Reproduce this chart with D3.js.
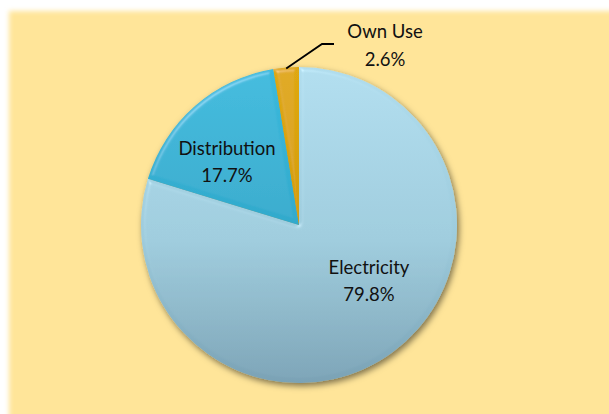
<!DOCTYPE html>
<html><head><meta charset="utf-8">
<script src="https://cdn.jsdelivr.net/npm/d3@7"></script>
<style>html,body{margin:0;padding:0;background:#fff;}svg{display:block;}</style>
</head><body>
<script>
const categories = ["Electricity", "Distribution", "Own Use"];
const values = [79.8, 17.7, 2.6];
const labels = ["79.8%", "17.7%", "2.6%"];
const topColors = ["#b0ddee", "#3cbadd", "#dfa812"];
const midColors = ["#9dcbdc", "#30a8ca", "#d39c08"];
const bottomColors = ["#7aa2b5", "#24869f", "#b07d04"];

const W = 609, H = 414;
const cx = 299, cy = 225, R = 158;

const svg = d3.select("body").append("svg").attr("width", W).attr("height", H);
const defs = svg.append("defs");

const bgBlur = defs.append("filter").attr("id", "bgblur").attr("x", "-5%").attr("y", "-5%").attr("width", "110%").attr("height", "110%");
bgBlur.append("feGaussianBlur").attr("stdDeviation", 2.5);

const shadow = defs.append("filter").attr("id", "shadow").attr("x", "-20%").attr("y", "-20%").attr("width", "140%").attr("height", "140%");
shadow.append("feDropShadow").attr("dx", 2).attr("dy", 3).attr("stdDeviation", 3).attr("flood-color", "#000").attr("flood-opacity", 0.5);

const bevel = defs.append("filter").attr("id", "bevel").attr("x", "-10%").attr("y", "-10%").attr("width", "120%").attr("height", "120%");
bevel.append("feGaussianBlur").attr("in", "SourceAlpha").attr("stdDeviation", 2).attr("result", "b");
bevel.append("feSpecularLighting").attr("in", "b").attr("surfaceScale", 3).attr("specularConstant", 0.6)
  .attr("specularExponent", 25).attr("lighting-color", "#fff").attr("result", "spec")
  .append("feDistantLight").attr("azimuth", 235).attr("elevation", 40);
bevel.append("feComposite").attr("in", "spec").attr("in2", "SourceAlpha").attr("operator", "in").attr("result", "specIn");
bevel.append("feComposite").attr("in", "SourceGraphic").attr("in2", "specIn").attr("operator", "arithmetic")
  .attr("k1", 0).attr("k2", 1).attr("k3", 0.3).attr("k4", 0);

categories.forEach((c, i) => {
  const g = defs.append("linearGradient").attr("id", "grad" + i)
    .attr("gradientUnits", "userSpaceOnUse")
    .attr("x1", 0).attr("y1", -R).attr("x2", 0).attr("y2", R);
  g.append("stop").attr("offset", "0%").attr("stop-color", topColors[i]);
  g.append("stop").attr("offset", "55%").attr("stop-color", midColors[i]);
  g.append("stop").attr("offset", "100%").attr("stop-color", bottomColors[i]);
});

// background panel
svg.append("rect").attr("x", 9).attr("y", 11).attr("width", W).attr("height", H)
  .attr("fill", "#ffe599").attr("filter", "url(#bgblur)");

const pie = d3.pie().sort(null).value(d => d)(values);
const arc = d3.arc().innerRadius(0).outerRadius(R);

const gPie = svg.append("g").attr("transform", `translate(${cx},${cy})`).attr("filter", "url(#shadow)");
gPie.selectAll("path.slice").data(pie).join("path")
  .attr("class", "slice")
  .attr("d", arc)
  .attr("fill", (d, i) => `url(#grad${i})`)
  .attr("filter", "url(#bevel)");

const fontFam = "Lato, 'Open Sans', sans-serif";
const txt = svg.append("g").attr("font-family", fontFam).attr("font-size", 18.5).attr("fill", "#111").attr("text-anchor", "middle");

const labelPos = [[369, 274], [227, 155]];
[0, 1].forEach(i => {
  const pos = labelPos[i];
  txt.append("text").attr("x", pos[0]).attr("y", pos[1]).text(categories[i]);
  txt.append("text").attr("x", pos[0]).attr("y", pos[1] + 27).text(labels[i]);
});
// Own Use outside label
txt.append("text").attr("x", 385).attr("y", 38).text(categories[2]);
txt.append("text").attr("x", 385).attr("y", 66).text(labels[2]);

const a = (pie[2].startAngle + pie[2].endAngle) / 2;
const px = cx + Math.sin(a) * (R - 1), py = cy - Math.cos(a) * (R - 1);
svg.append("path").attr("d", `M${px},${py} L322,44 L334,44`)
  .attr("fill", "none").attr("stroke", "#000").attr("stroke-width", 1.8);
</script>
</body></html>
